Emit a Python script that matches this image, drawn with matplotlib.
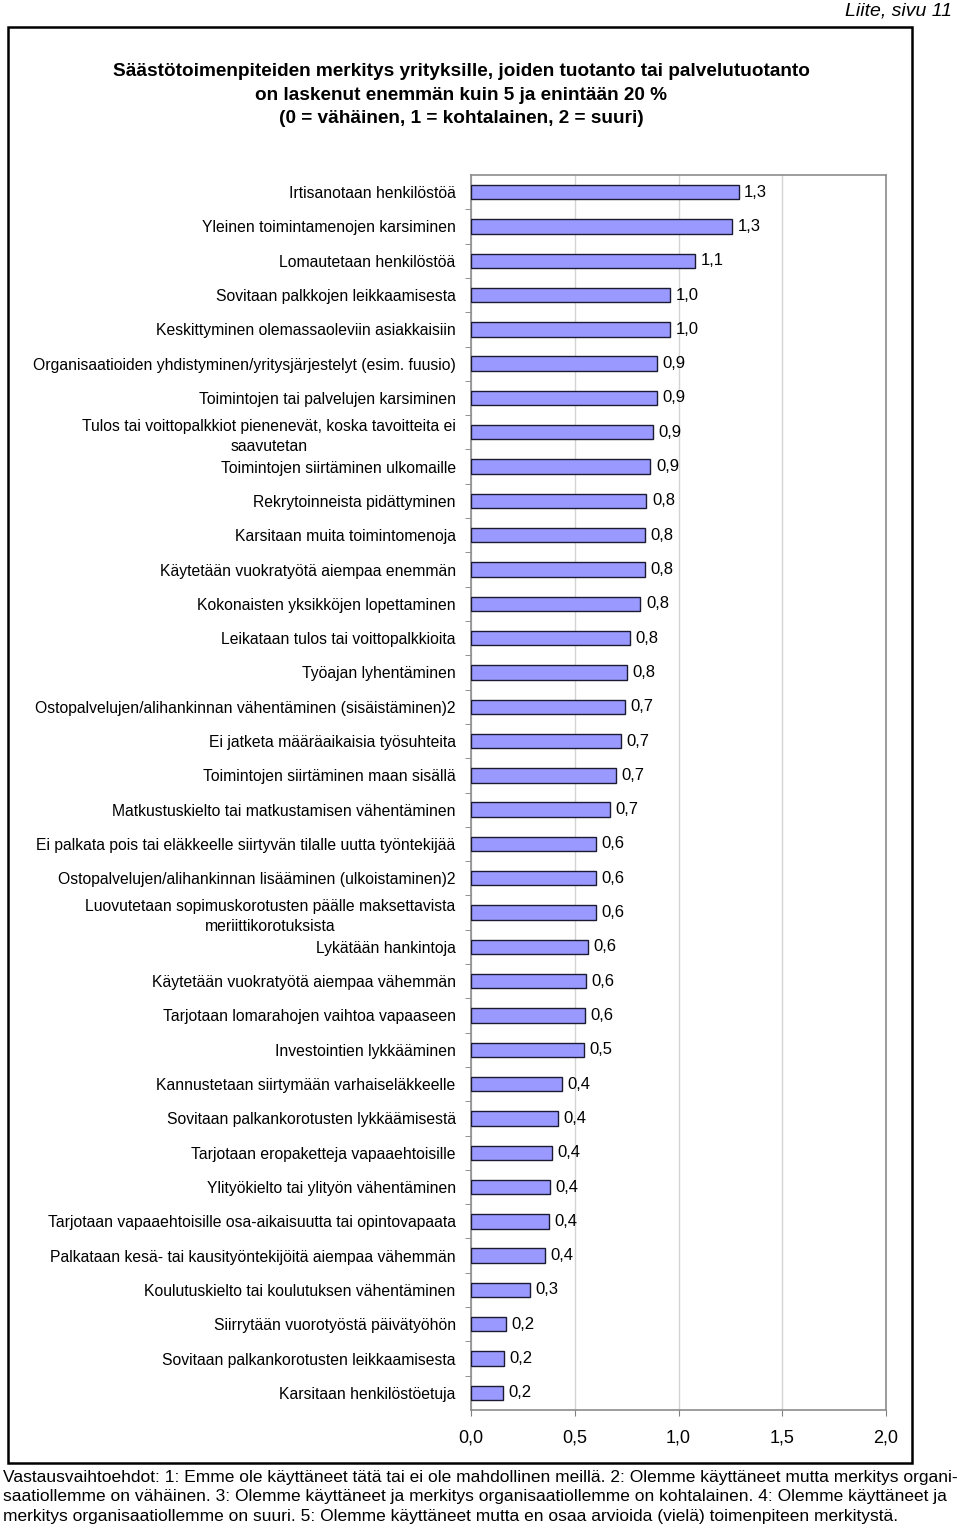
"""Bar chart: importance of cost-saving measures for companies."""

import matplotlib.pyplot as plt
from matplotlib.patches import Rectangle
from matplotlib.ticker import FixedLocator

plt.rcParams["font.family"] = ["Liberation Sans", "DejaVu Sans"]

measures = [
    "Irtisanotaan henkilöstöä",
    "Yleinen toimintamenojen karsiminen",
    "Lomautetaan henkilöstöä",
    "Sovitaan palkkojen leikkaamisesta",
    "Keskittyminen olemassaoleviin asiakkaisiin",
    "Organisaatioiden yhdistyminen/yritysjärjestelyt (esim. fuusio)",
    "Toimintojen tai palvelujen karsiminen",
    "Tulos tai voittopalkkiot pienenevät, koska tavoitteita ei\nsaavutetan",
    "Toimintojen siirtäminen ulkomaille",
    "Rekrytoinneista pidättyminen",
    "Karsitaan muita toimintomenoja",
    "Käytetään vuokratyötä aiempaa enemmän",
    "Kokonaisten yksikköjen lopettaminen",
    "Leikataan tulos tai voittopalkkioita",
    "Työajan lyhentäminen",
    "Ostopalvelujen/alihankinnan vähentäminen (sisäistäminen)2",
    "Ei jatketa määräaikaisia työsuhteita",
    "Toimintojen siirtäminen maan sisällä",
    "Matkustuskielto tai matkustamisen vähentäminen",
    "Ei palkata pois tai eläkkeelle siirtyvän tilalle uutta työntekijää",
    "Ostopalvelujen/alihankinnan lisääminen (ulkoistaminen)2",
    "Luovutetaan sopimuskorotusten päälle maksettavista\nmeriittikorotuksista",
    "Lykätään hankintoja",
    "Käytetään vuokratyötä aiempaa vähemmän",
    "Tarjotaan lomarahojen vaihtoa vapaaseen",
    "Investointien lykkääminen",
    "Kannustetaan siirtymään varhaiseläkkeelle",
    "Sovitaan palkankorotusten lykkäämisestä",
    "Tarjotaan eropaketteja vapaaehtoisille",
    "Ylityökielto tai ylityön vähentäminen",
    "Tarjotaan vapaaehtoisille osa-aikaisuutta tai opintovapaata",
    "Palkataan kesä- tai kausityöntekijöitä aiempaa vähemmän",
    "Koulutuskielto tai koulutuksen vähentäminen",
    "Siirrytään vuorotyöstä päivätyöhön",
    "Sovitaan palkankorotusten leikkaamisesta",
    "Karsitaan henkilöstöetuja",
]

means = [
    1.29, 1.26, 1.08, 0.96, 0.96, 0.895, 0.895, 0.878, 0.865, 0.845,
    0.839, 0.839, 0.816, 0.765, 0.752, 0.741, 0.721, 0.697, 0.671, 0.602,
    0.602, 0.602, 0.565, 0.552, 0.55, 0.545, 0.438, 0.42, 0.388, 0.382,
    0.375, 0.355, 0.282, 0.169, 0.158, 0.155,
]

x_ticks = [0.0, 0.5, 1.0, 1.5, 2.0]

title = ("Säästötoimenpiteiden merkitys yrityksille, joiden tuotanto tai palvelutuotanto\n"
         "on laskenut enemmän kuin 5 ja enintään 20 %\n"
         "(0 = vähäinen, 1 = kohtalainen, 2 = suuri)")

footer = ("Vastausvaihtoehdot: 1: Emme ole käyttäneet tätä tai ei ole mahdollinen meillä. "
          "2: Olemme käyttäneet mutta merkitys organi-\n"
          "saatiollemme on vähäinen. 3: Olemme käyttäneet ja merkitys organisaatiollemme "
          "on kohtalainen. 4: Olemme käyttäneet ja\n"
          "merkitys organisaatiollemme on suuri. 5: Olemme käyttäneet mutta en osaa "
          "arvioida (vielä) toimenpiteen merkitystä.")


def comma(value: float) -> str:
    return f"{value:.1f}".replace(".", ",")


fig = plt.figure(figsize=(9.6, 15.29), dpi=100)
ax = fig.add_axes([471 / 960, 1 - 1410 / 1529, 415 / 960, 1235 / 1529])

positions = list(range(len(measures)))
ax.barh(positions, means, height=0.42, color="#9999ff",
        edgecolor="#1a1a33", linewidth=1.0, zorder=3)

for pos, value in zip(positions, means):
    ax.annotate(comma(value), (value, pos), xytext=(4, 0),
                textcoords="offset points", va="center", ha="left",
                fontsize=12)

ax.set_xlim(0, 2.0)
ax.set_ylim(len(measures) - 0.5, -0.5)
ax.set_xticks(x_ticks)
ax.set_xticklabels([comma(t) for t in x_ticks], fontsize=13)
ax.tick_params(axis="x", length=4, color="#808080", pad=10)

ax.set_yticks(positions)
ax.set_yticklabels(measures, fontsize=11.3)
for label in ax.get_yticklabels():
    label.set_multialignment("center")
    label.set_linespacing(1.4)
ax.tick_params(axis="y", which="major", length=0, pad=11)
ax.yaxis.set_minor_locator(FixedLocator([p + 0.5 for p in positions[:-1]]))
ax.tick_params(axis="y", which="minor", length=4, color="#808080")

ax.grid(axis="x", color="#d4d4d4", linewidth=1.0, zorder=0)
for spine in ax.spines.values():
    spine.set_color("#8c8c8c")
    spine.set_linewidth(1.2)

fig.text(461 / 960, 1 - 95 / 1529, title, ha="center", va="center",
         fontsize=13.7, fontweight="bold", linespacing=1.5)
fig.text(952 / 960, 1 - 11 / 1529, "Liite, sivu 11", ha="right", va="center",
         fontsize=14, style="italic")
fig.text(3 / 960, 1 - 1497 / 1529, footer, ha="left", va="center",
         fontsize=12.5, linespacing=1.35)

fig.patches.append(Rectangle((8 / 960, 1 - 1463 / 1529), 904 / 960, 1436 / 1529,
                             transform=fig.transFigure, fill=False,
                             edgecolor="black", linewidth=1.8))

fig.savefig("out.png", dpi=100)
